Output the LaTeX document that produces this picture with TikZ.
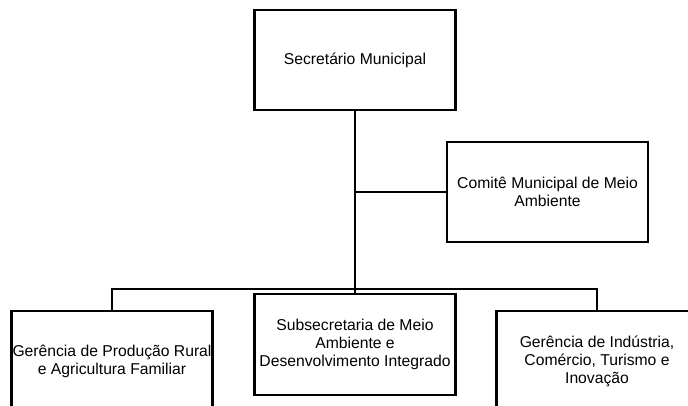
\documentclass[tikz,border=0pt]{standalone}
\usepackage{fontspec}
\setmainfont{Liberation Sans}

\begin{document}
\begin{tikzpicture}[x=1pt, y=-1pt,
    caixa/.style={draw, line width=2.5pt, minimum width=201pt, minimum height=100pt,
        inner sep=0pt, align=center, font=\fontsize{15.7}{18}\selectfont},
    linha/.style={line width=2.5pt}]
    \useasboundingbox (0,0) rectangle (688,405);
    \clip (0,0) rectangle (688,405);

    % Nodos
    \node[caixa] (sec) at (355,60) {Secretário Municipal};
    \node[caixa] (comite) at (547.5,192) {Comitê Municipal de Meio\\Ambiente};
    \node[caixa] (ger1) at (112,361) {Gerência de Produção Rural\\e Agricultura Familiar};
    \node[caixa, minimum height=101pt] (sub) at (355,344.5) {Subsecretaria de Meio\\Ambiente e\\Desenvolvimento Integrado};
    \node[caixa] (ger2) at (597,361) {Gerência de Indústria,\\Comércio, Turismo e\\Inovação};
    \coordinate (barra) at (355,289);

    % Aristas
    \draw[linha] (sec) -- (sub);
    \draw[linha] (sec.south |- comite) -- (comite);
    \draw[linha] (ger1.north) |- (barra) -| (ger2.north);

\end{tikzpicture}
\end{document}
